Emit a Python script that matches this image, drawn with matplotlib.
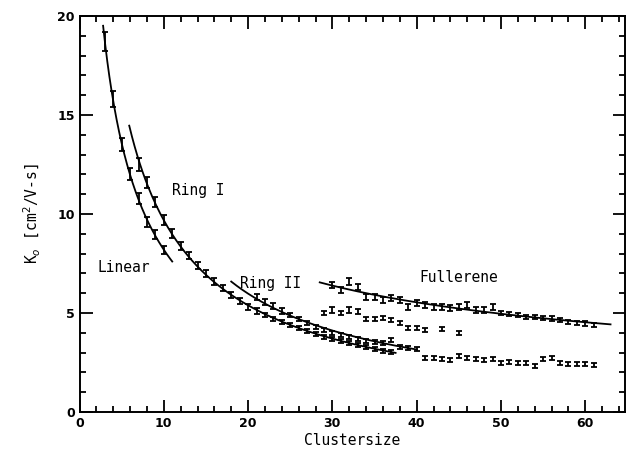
import numpy as np
import matplotlib
matplotlib.use("Agg")
import matplotlib.pyplot as plt
from matplotlib.ticker import MultipleLocator

# ---------------- data ----------------
linear_n = [3, 4, 5, 6, 7, 8, 9, 10]
linear_k = [18.7, 15.8, 13.5, 12.0, 10.8, 9.6, 8.95, 8.2]

ring1_n = list(range(7, 38))
ring1_k = [12.5, 11.6, 10.6, 9.7, 9.0, 8.4, 7.9, 7.4, 7.0, 6.6, 6.25, 5.9, 5.6,
           5.3, 5.1, 4.9, 4.7, 4.55, 4.4, 4.25, 4.1, 3.95, 3.8, 3.7, 3.6, 3.5,
           3.4, 3.3, 3.2, 3.1, 3.05]

ring2_n = list(range(21, 41))
ring2_k = [5.8, 5.55, 5.35, 5.1, 4.9, 4.7, 4.5, 4.3, 4.15, 4.0, 3.9, 3.8, 3.7,
           3.6, 3.55, 3.5, 3.65, 3.3, 3.25, 3.2]

full_n = list(range(30, 62))
full_k = [6.41, 6.16, 6.58, 6.33, 5.82, 5.82, 5.65, 5.75, 5.65, 5.3, 5.5, 5.4,
          5.3, 5.3, 5.25, 5.3, 5.4, 5.15, 5.15, 5.3, 5.0, 4.95, 4.9, 4.8, 4.8,
          4.75, 4.73, 4.65, 4.55, 4.5, 4.47, 4.4]

mid_n = [29, 30, 31, 32, 33, 34, 35, 36, 37, 38, 39, 40, 41, 43, 45]
mid_k = [5.0, 5.15, 5.0, 5.15, 5.07, 4.7, 4.7, 4.75, 4.65, 4.5, 4.25, 4.25,
         4.15, 4.2, 4.0]

low_n = list(range(41, 62))
low_k = [2.71, 2.71, 2.66, 2.63, 2.83, 2.71, 2.66, 2.63, 2.66, 2.49, 2.54,
         2.46, 2.49, 2.32, 2.66, 2.71, 2.46, 2.42, 2.42, 2.42, 2.37]

# extents and log-log polynomial degree of the fitted curves
fit_ranges = {"linear": (2.8, 11.0), "ring1": (5.9, 37.5),
              "ring2": (18.0, 40.0), "full": (28.5, 63.0)}
fit_degree = {"linear": 2, "ring1": 2, "ring2": 1, "full": 1}

REL_ERR = 0.025

x_ticks = [0, 10, 20, 30, 40, 50, 60]
y_ticks = [0, 5, 10, 15, 20]

# ---------------- plot ----------------
fig = plt.figure(figsize=(6.28, 4.51), dpi=100)
ax = fig.add_axes([0.1266, 0.0865, 0.8684, 0.878])


def draw_series(n, k, fit_key=None):
    n = np.asarray(n, float)
    k = np.asarray(k, float)
    err = np.maximum(REL_ERR * k, 0.1)
    ax.errorbar(n, k, yerr=err, fmt='none', ecolor='black', elinewidth=1.3,
                capsize=2.2, capthick=1.3)
    if fit_key is not None:
        c = np.polyfit(np.log(n), np.log(k), fit_degree[fit_key])
        lo, hi = fit_ranges[fit_key]
        xx = np.linspace(lo, hi, 200)
        ax.plot(xx, np.exp(np.polyval(c, np.log(xx))), color='black', lw=1.3)


draw_series(linear_n, linear_k, "linear")
draw_series(ring1_n, ring1_k, "ring1")
draw_series(ring2_n, ring2_k, "ring2")
draw_series(full_n, full_k, "full")
draw_series(mid_n, mid_k)
draw_series(low_n, low_k)

ax.set_xlim(0, 64.7)
ax.set_ylim(0, 20)
ax.set_xticks(x_ticks)
ax.set_yticks(y_ticks)
ax.xaxis.set_minor_locator(MultipleLocator(2))
ax.yaxis.set_minor_locator(MultipleLocator(1))
ax.tick_params(which='both', direction='in', top=True, right=True,
               width=1.3, labelsize=9)
ax.tick_params(which='major', length=9)
ax.tick_params(which='minor', length=4.5)
for s in ax.spines.values():
    s.set_linewidth(1.4)
for lab in ax.get_xticklabels() + ax.get_yticklabels():
    lab.set_fontweight('bold')

ax.set_xlabel("Clustersize", fontsize=10.5, family='DejaVu Sans Mono',
              labelpad=2)
ax.set_ylabel(r"K$_o$ [cm$^2$/V-s]", fontsize=10.5, family='DejaVu Sans Mono',
              labelpad=10)

txt = dict(fontsize=10.5, family='DejaVu Sans Mono', va='center', ha='left')
ax.text(11.0, 11.2, "Ring I", **txt)
ax.text(2.1, 7.3, "Linear", **txt)
ax.text(19.1, 6.5, "Ring II", **txt)
ax.text(40.3, 6.8, "Fullerene", **txt)

fig.savefig("out.png", dpi=100)
